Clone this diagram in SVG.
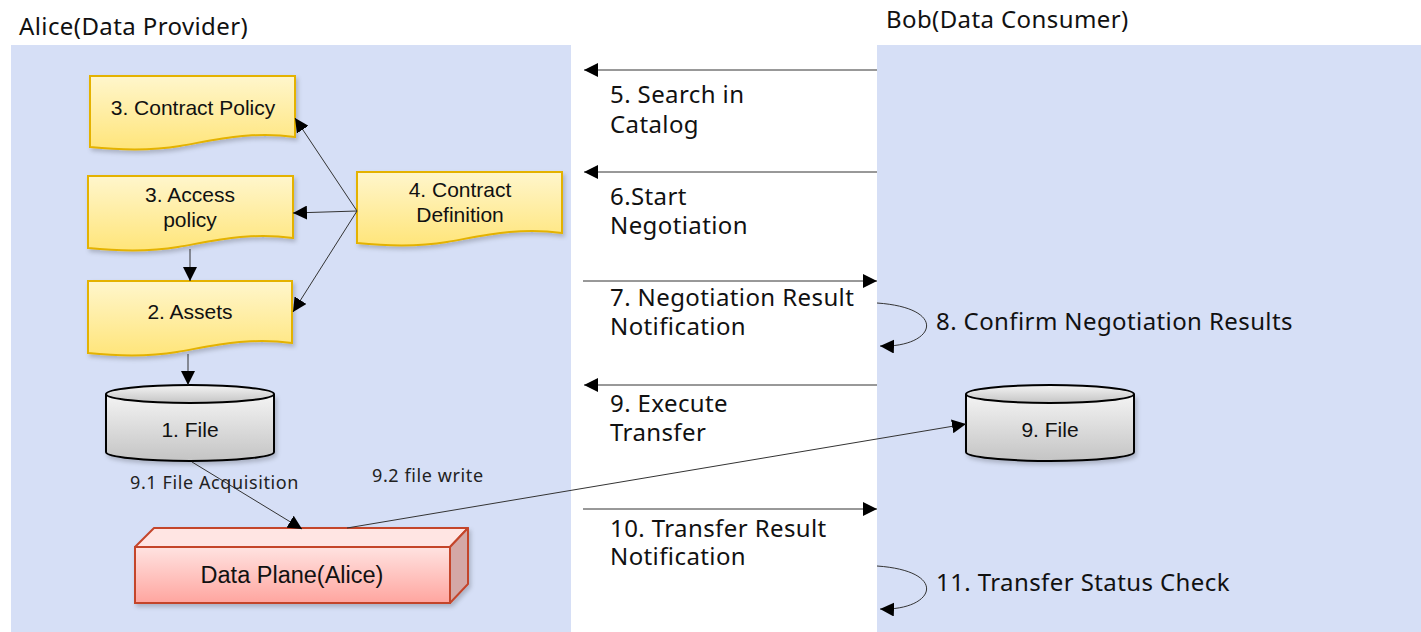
<svg xmlns="http://www.w3.org/2000/svg" width="1421" height="632" viewBox="0 0 1421 632">
  <style>
    .lane { fill: #d6dff6; }
    .title { font-family: "Noto Sans", "DejaVu Sans", sans-serif; font-size: 24px; letter-spacing: 0.4px; fill: #111; }
    .msg { font-family: "Noto Sans", "DejaVu Sans", sans-serif; font-size: 24px; letter-spacing: 0.4px; fill: #111; }
    .small { font-family: "Noto Sans", "DejaVu Sans", sans-serif; font-size: 18px; letter-spacing: 0.6px; fill: #222; }
    .nodetext { font-family: "Liberation Sans", Arial, sans-serif; font-size: 21px; fill: #111; text-anchor: middle; }
    .doc { fill: url(#docFill); stroke: #e4b200; stroke-width: 2; filter: url(#shadow); }
    .cyl { fill: url(#cylFill); stroke: #000; stroke-width: 2; }
    .line { fill: none; stroke: #333; stroke-width: 1; }
  </style>
  <defs>
    <linearGradient id="docFill" x1="0" y1="0" x2="0" y2="1">
      <stop offset="0" stop-color="#fff6cc"/>
      <stop offset="1" stop-color="#ffe57a"/>
    </linearGradient>
    <linearGradient id="cylFill" x1="0" y1="0" x2="0" y2="1">
      <stop offset="0" stop-color="#f4f4f4"/>
      <stop offset="1" stop-color="#c4c4c4"/>
    </linearGradient>
    <linearGradient id="boxFront" x1="0" y1="0" x2="0" y2="1">
      <stop offset="0" stop-color="#ffe3e1"/>
      <stop offset="1" stop-color="#ffa59f"/>
    </linearGradient>
    <filter id="shadow" x="-10%" y="-10%" width="130%" height="140%">
      <feDropShadow dx="2" dy="3" stdDeviation="2" flood-color="#000" flood-opacity="0.2"/>
    </filter>
    <marker id="arrow" viewBox="0 0 10 10" refX="10" refY="5" markerWidth="14" markerHeight="14" markerUnits="userSpaceOnUse" orient="auto">
      <path d="M0,0 L10,5 L0,10 z" fill="#000"/>
    </marker>
  </defs>

  <!-- swimlane backgrounds -->
  <rect class="lane" x="11" y="45" width="560" height="587"/>
  <rect class="lane" x="877" y="45" width="544" height="587"/>
  <text class="title" x="19" y="35">Alice(Data Provider)</text>
  <text class="title" x="886" y="28">Bob(Data Consumer)</text>

  <!-- Alice side nodes -->
  <g id="contract-policy">
    <path class="doc" d="M90,76 H295 V137 C250,131 215,140 180,146 C150,151 120,150 90,147 Z"/>
    <text class="nodetext" x="193" y="115">3. Contract Policy</text>
  </g>
  <g id="access-policy">
    <path class="doc" d="M88,176 H293 V238 C248,232 213,241 178,247 C148,252 118,251 88,248 Z"/>
    <text class="nodetext" x="190" y="202">3. Access</text>
    <text class="nodetext" x="190" y="227">policy</text>
  </g>
  <g id="assets">
    <path class="doc" d="M88,281 H292 V343 C247,337 212,346 177,352 C147,357 117,356 88,353 Z"/>
    <text class="nodetext" x="190" y="319">2. Assets</text>
  </g>
  <g id="contract-definition">
    <path class="doc" d="M357,172 H562 V233 C517,227 482,236 447,242 C417,247 387,246 357,243 Z"/>
    <text class="nodetext" x="460" y="197">4. Contract</text>
    <text class="nodetext" x="460" y="222">Definition</text>
  </g>
  <g id="file-alice">
    <path class="cyl" d="M106,394 V452 A84,9 0 0 0 274,452 V394" filter="url(#shadow)"/>
    <ellipse class="cyl" cx="190" cy="394" rx="84" ry="9"/>
    <text class="nodetext" x="190" y="437">1. File</text>
  </g>
  <g id="data-plane">
    <g filter="url(#shadow)">
      <path d="M135,547 L154,528 H468 L450,547 Z" fill="#ffe5e3" stroke="#c4452c" stroke-width="2" stroke-linejoin="round"/>
      <path d="M450,547 L468,528 V584 L450,603 Z" fill="#d4a8a6" stroke="#c4452c" stroke-width="2" stroke-linejoin="round"/>
      <rect x="135" y="547" width="315" height="56" fill="url(#boxFront)" stroke="#c4452c" stroke-width="2"/>
    </g>
    <text class="nodetext" x="292" y="583" style="font-size:23.5px">Data Plane(Alice)</text>
  </g>

  <!-- Bob side nodes -->
  <g id="file-bob">
    <path class="cyl" d="M966,394 V452 A84,9 0 0 0 1134,452 V394" filter="url(#shadow)"/>
    <ellipse class="cyl" cx="1050" cy="394" rx="84" ry="9"/>
    <text class="nodetext" x="1050" y="437">9. File</text>
  </g>

  <!-- connectors -->
  <g id="connectors">
    <path class="line" d="M357,211 L295,118" marker-end="url(#arrow)"/>
    <path class="line" d="M357,211 L293,213" marker-end="url(#arrow)"/>
    <path class="line" d="M357,211 L293,312" marker-end="url(#arrow)"/>
    <path class="line" d="M190,249 V281" marker-end="url(#arrow)"/>
    <path class="line" d="M188,354 V385" marker-end="url(#arrow)"/>
    <path class="line" d="M192,462 L302,529" marker-end="url(#arrow)"/>
    <path class="line" d="M347,528 L966,424" marker-end="url(#arrow)"/>

    <!-- messages between participants -->
    <path class="line" d="M877,70 H584" marker-end="url(#arrow)"/>
    <path class="line" d="M877,172 H584" marker-end="url(#arrow)"/>
    <path class="line" d="M583,281 H877" marker-end="url(#arrow)"/>
    <path class="line" d="M877,303 C950,308 935,348 880,346" marker-end="url(#arrow)"/>
    <path class="line" d="M877,385 H584" marker-end="url(#arrow)"/>
    <path class="line" d="M583,509 H877" marker-end="url(#arrow)"/>
    <path class="line" d="M877,566 C950,571 935,611 880,609" marker-end="url(#arrow)"/>
  </g>

  <!-- connector labels -->
  <g id="labels">
    <text class="small" x="130" y="489">9.1 File Acquisition</text>
    <text class="small" x="372" y="482">9.2 file write</text>
    <text class="msg" x="610" y="103">5. Search in</text>
    <text class="msg" x="610" y="133">Catalog</text>
    <text class="msg" x="610" y="205">6.Start</text>
    <text class="msg" x="610" y="234">Negotiation</text>
    <text class="msg" x="610" y="306">7. Negotiation Result</text>
    <text class="msg" x="610" y="335">Notification</text>
    <text class="msg" x="936" y="330">8. Confirm Negotiation Results</text>
    <text class="msg" x="610" y="412">9. Execute</text>
    <text class="msg" x="610" y="441">Transfer</text>
    <text class="msg" x="610" y="537">10. Transfer Result</text>
    <text class="msg" x="610" y="565">Notification</text>
    <text class="msg" x="936" y="591">11. Transfer Status Check</text>
  </g>
</svg>
